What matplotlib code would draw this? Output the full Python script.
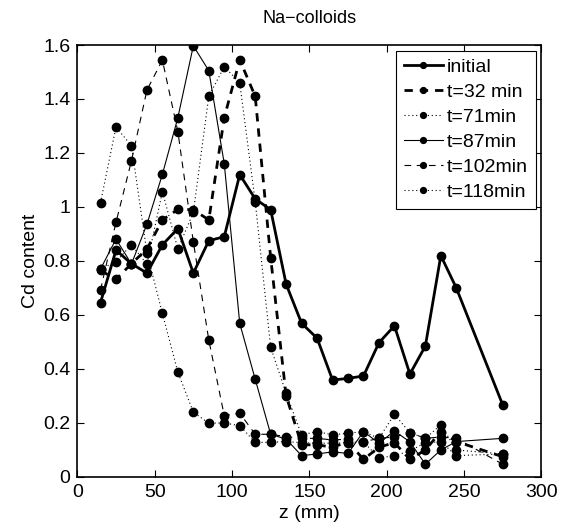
import matplotlib
matplotlib.use("Agg")
import matplotlib.pyplot as plt

z = [15, 25, 35, 45, 55, 65, 75, 85, 95, 105, 115, 125, 135, 145, 155,
     165, 175, 185, 195, 205, 215, 225, 235, 245, 275]

initial = [0.646, 0.84, 0.79, 0.755, 0.86, 0.92, 0.755, 0.875, 0.89, 1.12, 1.03,
           0.99, 0.714, 0.569, 0.514, 0.359, 0.365, 0.374, 0.497, 0.56, 0.381,
           0.485, 0.82, 0.70, 0.267]
t32 = [0.765, 0.732, 0.79, 0.844, 0.952, 0.991, 0.99, 0.952, 1.331, 1.545, 1.41,
       0.812, 0.30, 0.119, 0.119, 0.11, 0.13, 0.065, 0.11, 0.127, 0.065, 0.10,
       0.168, 0.131, 0.075]
t71 = [0.77, 0.797, 0.86, 0.788, 1.057, 0.844, 0.98, 1.41, 1.52, 1.46, 1.02,
       0.48, 0.31, 0.156, 0.168, 0.156, 0.162, 0.168, 0.143, 0.232, 0.164,
       0.143, 0.193, 0.10, 0.085]
t87 = [0.77, 0.881, 0.789, 0.936, 1.121, 1.331, 1.597, 1.505, 1.16, 0.569,
       0.362, 0.158, 0.14, 0.079, 0.085, 0.093, 0.087, 0.168, 0.125, 0.17,
       0.13, 0.047, 0.10, 0.131, 0.143]
t102 = [0.693, 0.943, 1.171, 1.433, 1.544, 1.279, 0.871, 0.507, 0.227, 0.236,
        0.158, 0.158, 0.149, 0.143, 0.143, 0.137, 0.14, 0.13, 0.143, 0.148,
        0.164, 0.143, 0.148, 0.143, 0.047]
t118 = [1.016, 1.296, 1.227, 0.83, 0.606, 0.388, 0.24, 0.199, 0.20, 0.19,
        0.128, 0.128, 0.131, 0.127, 0.125, 0.125, 0.127, 0.13, 0.07, 0.079,
        0.096, 0.127, 0.13, 0.079, 0.085]

labels = ["initial", "t=32 min", "t=71min", "t=87min", "t=102min", "t=118min"]
xticks = [0, 50, 100, 150, 200, 250, 300]
yticks = [0, 0.2, 0.4, 0.6, 0.8, 1.0, 1.2, 1.4, 1.6]
yticklabels = ["0", "0.2", "0.4", "0.6", "0.8", "1", "1.2", "1.4", "1.6"]

plt.rcParams['font.family'] = ['Liberation Sans', 'DejaVu Sans']

fig = plt.figure(figsize=(5.66, 5.27), dpi=100)
ax = fig.add_axes([0.1366, 0.095, 0.8199, 0.8196])

ms = 6
ax.plot(z, initial, '-', color='k', lw=2.0, marker='o', ms=ms, label=labels[0])
ax.plot(z, t32, '--', color='k', lw=2.0, marker='o', ms=ms, label=labels[1],
        dashes=(3, 2.5))
ax.plot(z, t71, ':', color='k', lw=0.8, marker='o', ms=ms, label=labels[2],
        dashes=(1, 2.5))
ax.plot(z, t87, '-', color='k', lw=0.8, marker='o', ms=ms, label=labels[3])
ax.plot(z, t102, '--', color='k', lw=0.8, marker='o', ms=ms, label=labels[4],
        dashes=(6, 5))
ax.plot(z, t118, ':', color='k', lw=0.8, marker='o', ms=ms, label=labels[5],
        dashes=(1, 2.5))

ax.set_xlim(0, 300)
ax.set_ylim(0, 1.6)
ax.set_xticks(xticks)
ax.set_xticklabels([str(v) for v in xticks])
ax.set_yticks(yticks)
ax.set_yticklabels(yticklabels)
ax.tick_params(direction='in', top=True, right=True, length=5, width=0.8,
               labelsize=14, pad=5)
for s in ax.spines.values():
    s.set_linewidth(1.2)

ax.set_xlabel("z (mm)", fontsize=14, labelpad=3)
ax.set_ylabel("Cd content", fontsize=14, labelpad=3)
ax.set_title("Na\u2212colloids", fontsize=13, pad=16)

leg = ax.legend(loc='upper right', fontsize=14, numpoints=1, handlelength=2.0,
                handletextpad=0.2, labelspacing=0.38, borderpad=0.4,
                borderaxespad=0.3, fancybox=False, framealpha=1,
                edgecolor='k', markerscale=0.7)
leg.get_frame().set_linewidth(0.8)

fig.savefig("out.png", dpi=100)
